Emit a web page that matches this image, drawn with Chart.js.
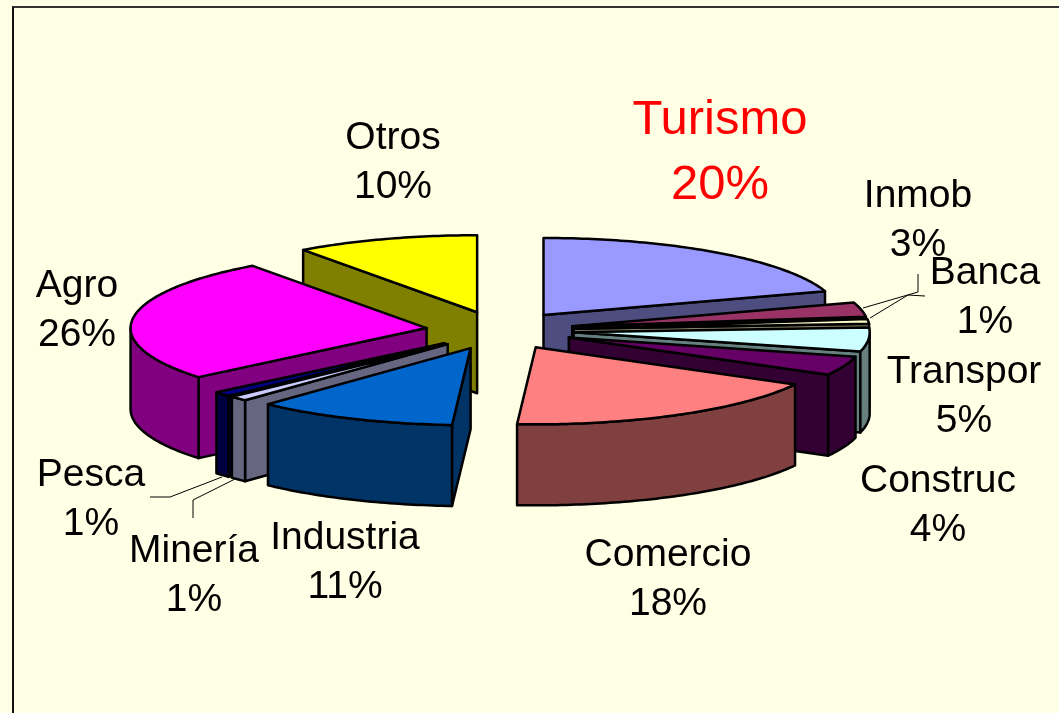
<!DOCTYPE html>
<html>
<head>
<meta charset="utf-8">
<style>
    html, body { margin: 0; padding: 0; background: #FFFFE5; overflow: hidden; }
    #frame { position: absolute; left: 12px; top: 6px; right: -5px; bottom: -5px; border-left: 2px solid #111; border-top: 2px solid #333; }
    #pieChart { position: absolute; left: 0; top: 0; }
</style>
<script src="https://cdn.jsdelivr.net/npm/chart.js@4"></script>
</head>
<body>
<div id="frame"></div>
<canvas id="pieChart" width="1059" height="713"></canvas>
<script>
const categories = ['Turismo', 'Inmob', 'Banca', 'Transpor', 'Construc', 'Comercio', 'Industria', 'Minería', 'Pesca', 'Agro', 'Otros'];
const values = [20, 3, 1, 5, 4, 18, 11, 1, 1, 26, 10];

const topColors = ['#9999FF', '#993366', '#FFFFCC', '#CCFFFF', '#660066', '#FF8080', '#0066CC', '#CCCCFF', '#000080', '#FF00FF', '#FFFF00'];
const wallColors = ['#4D4D80', '#4D1A33', '#808066', '#668080', '#330033', '#804040', '#003366', '#666680', '#000040', '#800080', '#808000'];

// centre x and baseline of the first line for each label
const labelSpots = [[720, 134], [918, 207], [985, 284], [964, 383], [938, 492], [668, 566], [345, 549], [194, 562], [91, 486], [77, 297], [393, 149]];
const leaderLines = [
    [[863, 308], [918, 292], [918, 274]],
    [[870, 318], [908, 295], [925, 296]],
    [[222, 477], [170, 497], [150, 497]],
    [[237, 478], [193, 500], [193, 518]]
];

const squash = 0.26;
const depth = 81;
const pieRadius = 296;
const explode = 74;

// Pie whose slices are pulled apart and flattened onto an ellipse
class ExplodedPie extends Chart.PieController {
    draw() {
        const ctx = this.chart.ctx;
        this._cachedMeta.data.forEach(arc => {
            const mid = (arc.startAngle + arc.endAngle) / 2;
            ctx.save();
            ctx.translate(Math.cos(mid) * explode, arc.y + Math.sin(mid) * explode * squash);
            ctx.scale(1, squash);
            ctx.translate(0, -arc.y);
            arc.draw(ctx);
            ctx.restore();
        });
    }
}
ExplodedPie.id = 'explodedPie';
ExplodedPie.defaults = Chart.PieController.defaults;
Chart.register(ExplodedPie);

function sliceGeometry(arc) {
    const start = arc.startAngle;
    const end = arc.endAngle;
    const mid = (start + end) / 2;
    const ax = arc.x + Math.cos(mid) * explode;
    const ay = arc.y + Math.sin(mid) * explode * squash;
    const at = angle => [ax + Math.cos(angle) * pieRadius, ay + Math.sin(angle) * pieRadius * squash];
    return { start, end, mid, ax, ay, at };
}

function shape(ctx, points, fill) {
    ctx.beginPath();
    points.forEach((p, i) => i ? ctx.lineTo(p[0], p[1]) : ctx.moveTo(p[0], p[1]));
    ctx.closePath();
    if (fill) {
        ctx.fillStyle = fill;
        ctx.fill();
    }
    ctx.stroke();
}

function arcPoints(geo, from, to) {
    const pts = [];
    const steps = Math.max(2, Math.ceil((to - from) * 60));
    for (let i = 0; i <= steps; i++) {
        pts.push(geo.at(from + (to - from) * i / steps));
    }
    return pts;
}

const pie3d = {
    id: 'pie3d',
    beforeDatasetsDraw(chart) {
        const ctx = chart.ctx;
        const arcs = chart.getDatasetMeta(0).data;
        const order = arcs.map((arc, i) => i).sort((a, b) => {
            return Math.sin((arcs[a].startAngle + arcs[a].endAngle) / 2) - Math.sin((arcs[b].startAngle + arcs[b].endAngle) / 2);
        });

        ctx.save();
        ctx.strokeStyle = '#000';
        ctx.lineWidth = 2.5;
        ctx.lineJoin = 'round';
        order.forEach(i => {
            const geo = sliceGeometry(arcs[i]);
            const color = wallColors[i];
            const apex = [geo.ax, geo.ay];
            const apexLow = [geo.ax, geo.ay + depth];
            const down = p => [p[0], p[1] + depth];

            if (Math.cos(geo.start) < -0.001) {
                const p = geo.at(geo.start);
                shape(ctx, [apex, p, down(p), apexLow], color);
            }
            if (Math.cos(geo.end) > 0.001) {
                const p = geo.at(geo.end);
                shape(ctx, [apex, p, down(p), apexLow], color);
            }
            const from = Math.max(geo.start, 0);
            const to = Math.min(geo.end, Math.PI);
            if (to > from) {
                const rim = arcPoints(geo, from, to);
                shape(ctx, rim.concat(rim.slice().reverse().map(down)), color);
            }
        });
        ctx.restore();
    },
    afterDatasetsDraw(chart) {
        const ctx = chart.ctx;
        const arcs = chart.getDatasetMeta(0).data;
        ctx.save();
        ctx.strokeStyle = '#000';
        ctx.lineWidth = 2.5;
        ctx.lineJoin = 'round';
        arcs.forEach(arc => {
            const geo = sliceGeometry(arc);
            shape(ctx, [[geo.ax, geo.ay]].concat(arcPoints(geo, geo.start, geo.end)));
        });

        ctx.lineWidth = 1;
        leaderLines.forEach(line => {
            ctx.beginPath();
            line.forEach((p, i) => i ? ctx.lineTo(p[0], p[1]) : ctx.moveTo(p[0], p[1]));
            ctx.stroke();
        });

        ctx.textAlign = 'center';
        ctx.textBaseline = 'alphabetic';
        categories.forEach((name, i) => {
            const big = name === 'Turismo';
            const spot = labelSpots[i];
            ctx.fillStyle = big ? '#FF0000' : '#000000';
            ctx.font = (big ? 49 : 39) + 'px "Liberation Sans", Arial, sans-serif';
            ctx.fillText(name, spot[0], spot[1]);
            ctx.fillText(values[i] + '%', spot[0], spot[1] + (big ? 65 : 49));
        });
        ctx.restore();
    }
};

const pieCtx = document.getElementById('pieChart').getContext('2d');
new Chart(pieCtx, {
    type: 'explodedPie',
    data: {
        labels: categories,
        datasets: [{
            data: values,
            backgroundColor: topColors,
            borderWidth: 0,
            radius: pieRadius,
            clip: false
        }]
    },
    options: {
        responsive: false,
        animation: false,
        layout: { padding: { left: 0, right: 59, top: 0, bottom: 52 } },
        plugins: { legend: { display: false }, tooltip: { enabled: false } }
    },
    plugins: [pie3d]
});
</script>
</body>
</html>
